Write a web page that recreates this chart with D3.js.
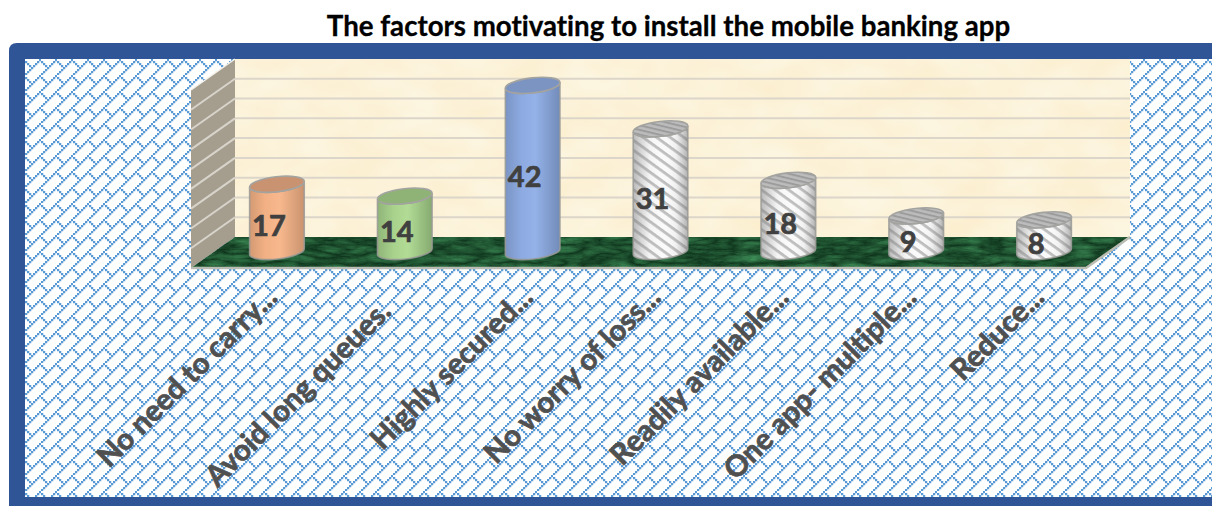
<!DOCTYPE html>
<html>
<head>
<meta charset="utf-8">
<script src="https://cdn.jsdelivr.net/npm/d3@7/dist/d3.min.js"></script>
<style>
html,body{margin:0;padding:0;background:#fff;overflow:hidden}
svg{display:block}
text{font-family:Lato,"Open Sans",sans-serif;font-weight:700;font-variant-ligatures:none}
</style>
</head>
<body>
<div id="chart"></div>
<script>
// Survey answers, one cylinder per factor
const categories = ["No need to carry...", "Avoid long queues.", "Highly secured...", "No worry of loss...", "Readily available...", "One app- multiple...", "Reduce..."];
const responses = [17, 14, 42, 31, 18, 9, 8];
const chartTitle = "The factors motivating to install the mobile banking app";
const gridValues = [5, 10, 15, 20, 25, 30, 35, 40];
const barStyles = ["orange", "green", "blue", "stripe", "stripe", "stripe", "stripe"];

const W = 1212, H = 506;
const depth = {x: 44, y: 31};
const wall = {left: 235, right: 1130, top: 59, bottom: 237};

const svg = d3.select("#chart").append("svg").attr("width", W).attr("height", H);
const defs = svg.append("defs");

const y = d3.scaleLinear().domain([0, 45]).range([wall.bottom, wall.top]);
const x = d3.scaleBand().domain(categories)
  .range([wall.left - depth.x / 2, wall.right - depth.x / 2]);

// 8x8 diagonal brick bitmap, each bit drawn as a slightly overlapping square
const brick = defs.append("pattern").attr("id", "brick")
  .attr("patternUnits", "userSpaceOnUse").attr("width", 16).attr("height", 16)
  .attr("x", 25).attr("y", 59);
brick.append("rect").attr("width", 16).attr("height", 16).attr("fill", "#fff");
const brickBits = [[7,0],[6,1],[5,2],[4,3],[3,4],[2,5],[1,6],[0,7],[0,1],[1,2],[2,3]];
brick.selectAll("rect.bit").data(brickBits).join("rect").attr("class", "bit")
  .attr("x", d => d[0] * 2).attr("y", d => d[1] * 2)
  .attr("width", 2.25).attr("height", 2.25).attr("fill", "#5B9BD5");

// Parchment and marble textures
const parch = defs.append("filter").attr("id", "parchment")
  .attr("color-interpolation-filters", "sRGB")
  .attr("x", 0).attr("y", 0).attr("width", "100%").attr("height", "100%");
parch.append("feTurbulence").attr("type", "fractalNoise")
  .attr("baseFrequency", "0.018 0.028").attr("numOctaves", 3).attr("seed", 7);
parch.append("feColorMatrix").attr("type", "matrix")
  .attr("values", "0 0 0 0 0.99  0.04 0 0 0 0.93  0.10 0 0 0 0.80  0 0 0 0 1");

const marble = defs.append("filter").attr("id", "marble")
  .attr("color-interpolation-filters", "sRGB")
  .attr("x", 0).attr("y", 0).attr("width", "100%").attr("height", "100%");
marble.append("feTurbulence").attr("type", "turbulence")
  .attr("baseFrequency", "0.03 0.11").attr("numOctaves", 4).attr("seed", 11);
marble.append("feColorMatrix").attr("type", "matrix")
  .attr("values", "0.22 0 0 0 0.05  0.42 0 0 0 0.19  0.28 0 0 0 0.10  0 0 0 0 1");

// Frame and hatched chart area
svg.append("path").attr("fill", "#2F5597")
  .attr("d", "M1212,43H17Q9,43 9,51V506H1212Z");
svg.append("rect").attr("x", 25).attr("y", 59).attr("width", W - 25).attr("height", 438)
  .attr("fill", "url(#brick)");

svg.append("text").attr("x", 668.5).attr("y", 36).attr("text-anchor", "middle")
  .attr("font-size", 27.65).attr("fill", "#000").attr("stroke", "#000").attr("stroke-width", 0.3)
  .text(chartTitle);

// Back wall
svg.append("rect").attr("x", wall.left).attr("y", wall.top)
  .attr("width", wall.right - wall.left).attr("height", wall.bottom - wall.top)
  .attr("fill", "#fdf3d9").attr("filter", "url(#parchment)");

// Side wall
svg.append("path").attr("fill", "#a59e8f")
  .attr("d", `M${wall.left},${wall.top}L${wall.left - depth.x},${wall.top + depth.y}V${wall.bottom + depth.y}L${wall.left},${wall.bottom}Z`);
svg.append("path").attr("fill", "none").attr("stroke", "#f4f1ea").attr("stroke-width", 1.5)
  .attr("d", `M${wall.left},${wall.top}L${wall.left - depth.x},${wall.top + depth.y}`);

// Gridlines across both walls
const grid = svg.append("g");
grid.selectAll("line.back").data(gridValues).join("line").attr("class", "back")
  .attr("x1", wall.left).attr("x2", wall.right)
  .attr("y1", d => y(d)).attr("y2", d => y(d))
  .attr("stroke", "#dcd6ca").attr("stroke-width", 2);
grid.selectAll("line.side").data(gridValues).join("line").attr("class", "side")
  .attr("x1", wall.left).attr("x2", wall.left - depth.x)
  .attr("y1", d => y(d)).attr("y2", d => y(d) + depth.y)
  .attr("stroke", "#d8d4cb").attr("stroke-width", 2);

// Floor
const floorPath = `M${wall.left},${wall.bottom}H${wall.right}L${wall.right - depth.x},${wall.bottom + depth.y}H${wall.left - depth.x}Z`;
defs.append("clipPath").attr("id", "floorClip").append("path").attr("d", floorPath);
svg.append("g").attr("clip-path", "url(#floorClip)").append("rect")
  .attr("x", wall.left - depth.x).attr("y", wall.bottom)
  .attr("width", wall.right - wall.left + depth.x).attr("height", depth.y)
  .attr("fill", "#1e4a2b").attr("filter", "url(#marble)");
svg.append("path").attr("fill", "none").attr("stroke", "#b9bcb2").attr("stroke-width", 2.5)
  .attr("d", `M${wall.left - depth.x},${wall.bottom + depth.y}H${wall.right - depth.x}L${wall.right},${wall.bottom}`);

// Cylinder shading
function hGrad(id, stops) {
  const g = defs.append("linearGradient").attr("id", id);
  g.selectAll("stop").data(stops).join("stop")
    .attr("offset", d => d[0]).attr("stop-color", d => d[1]).attr("stop-opacity", d => d[2] === undefined ? 1 : d[2]);
}
hGrad("orange", [[0, "#d39a73"], [0.28, "#f2b084"], [0.55, "#f8b88d"], [1, "#c9936f"]]);
hGrad("green", [[0, "#8fb478"], [0.3, "#a9d28d"], [0.55, "#b2dc96"], [1, "#86aa70"]]);
hGrad("blue", [[0, "#7a94c4"], [0.3, "#8dabe2"], [0.55, "#94b2e8"], [1, "#728bb9"]]);
hGrad("stripeShade", [[0, "#777", 0.5], [0.3, "#888", 0.06], [0.55, "#fff", 0], [0.78, "#888", 0.08], [1, "#666", 0.5]]);

function stripes(id, size, bar, ground, ink, angle) {
  const p = defs.append("pattern").attr("id", id).attr("patternUnits", "userSpaceOnUse")
    .attr("width", size).attr("height", size).attr("patternTransform", `rotate(${angle})`);
  p.append("rect").attr("width", size).attr("height", size).attr("fill", ground);
  p.append("rect").attr("width", size).attr("height", bar).attr("fill", ink);
}
stripes("bodyStripe", 8, 2.8, "#fafafa", "#bdbdbd", 36);
stripes("capStripe", 4.5, 2, "#bcbcbc", "#9c9c9c", 20);

const capColour = {orange: "#c99270", green: "#8fb376", blue: "#7c94c2", stripe: "url(#capStripe)"};

const tilt = -6.5;
const rx = x.bandwidth() * 0.215, ry = 7.5;
const ax = rx * Math.cos(tilt * Math.PI / 180), ay = rx * Math.sin(tilt * Math.PI / 180);

const rows = categories.map((c, i) => ({c, v: responses[i], style: barStyles[i]}));
const bars = svg.selectAll("g.cyl").data(rows).join("g").attr("class", "cyl")
  .attr("transform", d => `translate(${x(d.c) + x.bandwidth() / 2},0)`);

const topY = d => y(d.v) + depth.y / 2 - 1;
const bottomY = d => y(0) + depth.y / 2 - 1;
const bodyPath = d =>
  `M${-ax},${topY(d) - ay}V${bottomY(d) - ay}` +
  `A${rx},${ry} ${tilt} 0 0 ${ax},${bottomY(d) + ay}` +
  `V${topY(d) + ay}A${rx},${ry} ${tilt} 0 1 ${-ax},${topY(d) - ay}Z`;

bars.append("path").attr("d", bodyPath)
  .attr("fill", d => d.style === "stripe" ? "url(#bodyStripe)" : `url(#${d.style})`);
bars.filter(d => d.style === "stripe").append("path").attr("d", bodyPath).attr("fill", "url(#stripeShade)");
bars.append("path").attr("d", bodyPath).attr("fill", "none").attr("stroke", "#9a9a96")
  .attr("stroke-width", 1.6).attr("stroke-opacity", 0.85);
bars.append("ellipse").attr("cx", 0).attr("cy", topY)
  .attr("rx", rx).attr("ry", ry)
  .attr("transform", d => `rotate(${tilt} 0 ${topY(d)})`)
  .attr("fill", d => capColour[d.style])
  .attr("stroke", "#a3a3a0").attr("stroke-width", 1.6);

// Value labels
svg.selectAll("text.value").data(rows).join("text").attr("class", "value")
  .attr("x", d => x(d.c) + x.bandwidth() / 2 - 8)
  .attr("y", d => (y(d.v) + y(0)) / 2 + 33)
  .attr("text-anchor", "middle").attr("font-size", 29).attr("fill", "#404040")
  .attr("stroke", "#404040").attr("stroke-width", 0.7)
  .text(d => d.v);

// Slanted category labels; a label that was not cut short stops before the slot's end
svg.selectAll("text.cat").data(rows).join("text").attr("class", "cat")
  .attr("text-anchor", "end").attr("font-size", 29.5).attr("fill", "#505050")
  .attr("stroke", "#505050").attr("stroke-width", 0.7)
  .attr("transform", d => `translate(${x(d.c) + x.bandwidth() / 2 + 2},${y(0) + 62}) rotate(-45)`)
  .attr("dx", d => d.c.endsWith("...") ? 0 : -20)
  .text(d => d.c);
</script>
</body>
</html>
